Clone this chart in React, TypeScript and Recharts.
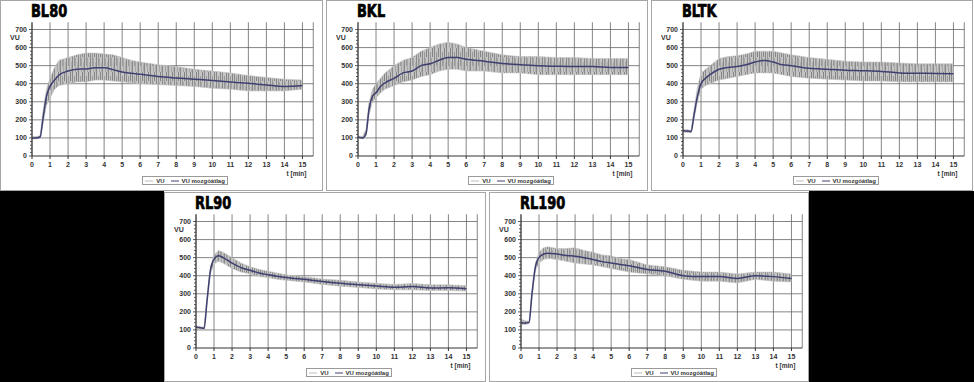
import { ComposedChart, Line, Area, XAxis, YAxis, CartesianGrid } from 'recharts';

// sample times (min)
const T = [0, 0.25, 0.45, 0.6, 0.8, 1, 1.25, 1.5, 2, 2.5, 3, 3.5, 4, 4.5, 5, 5.5, 6, 7, 8, 9, 10, 11, 12, 13, 14, 15];

const BL80_AVG = [100, 100, 105, 200, 330, 385, 420, 448, 470, 480, 482, 488, 488, 478, 465, 458, 452, 440, 432, 425, 418, 410, 402, 393, 385, 390];
const BL80_LO = [95, 95, 100, 170, 280, 320, 370, 390, 400, 410, 410, 420, 420, 415, 410, 405, 400, 395, 390, 385, 375, 370, 360, 360, 360, 370];
const BL80_HI = [108, 108, 112, 240, 370, 430, 490, 530, 545, 560, 570, 570, 565, 560, 545, 530, 520, 505, 495, 480, 470, 460, 445, 435, 425, 420];

const BKL_AVG = [105, 100, 125, 250, 330, 350, 385, 405, 430, 460, 470, 500, 510, 530, 545, 545, 535, 525, 512, 505, 500, 497, 495, 495, 490, 490];
const BKL_LO = [98, 95, 110, 220, 300, 320, 350, 370, 390, 410, 420, 440, 450, 470, 480, 480, 470, 470, 460, 460, 450, 450, 450, 450, 450, 450];
const BKL_HI = [110, 108, 150, 290, 370, 400, 430, 460, 500, 530, 545, 580, 600, 620, 630, 620, 600, 580, 560, 550, 550, 545, 545, 540, 540, 540];

const BLTK_AVG = [140, 138, 135, 220, 330, 400, 430, 450, 480, 490, 495, 505, 520, 528, 520, 505, 500, 485, 480, 475, 472, 468, 460, 458, 457, 455];
const BLTK_LO = [132, 130, 128, 200, 300, 370, 390, 400, 420, 430, 440, 450, 460, 460, 460, 450, 440, 430, 425, 420, 415, 415, 410, 410, 410, 410];
const BLTK_HI = [148, 145, 142, 250, 380, 460, 480, 500, 540, 550, 555, 565, 580, 580, 580, 570, 560, 545, 535, 525, 520, 520, 515, 510, 510, 510];

const RL90_AVG = [115, 112, 108, 250, 430, 490, 510, 500, 470, 445, 430, 415, 405, 397, 390, 385, 380, 368, 358, 350, 343, 336, 340, 332, 333, 328];
const RL90_LO = [108, 106, 102, 230, 410, 465, 480, 470, 440, 420, 410, 395, 390, 380, 375, 370, 365, 352, 342, 335, 327, 322, 322, 318, 318, 315];
const RL90_HI = [122, 118, 115, 270, 450, 515, 540, 530, 500, 470, 450, 435, 425, 415, 405, 400, 395, 382, 375, 365, 358, 352, 357, 350, 350, 345];

const RL190_AVG = [140, 138, 142, 290, 450, 500, 520, 525, 520, 512, 508, 500, 490, 478, 470, 462, 455, 435, 425, 400, 395, 395, 385, 400, 395, 385];
const RL190_LO = [130, 130, 135, 270, 430, 470, 490, 495, 490, 480, 470, 465, 460, 450, 440, 430, 420, 410, 400, 380, 370, 370, 360, 380, 370, 365];
const RL190_HI = [160, 150, 150, 310, 470, 530, 555, 560, 550, 550, 555, 540, 530, 515, 510, 495, 490, 460, 450, 430, 420, 420, 410, 420, 420, 410];

const X_TICKS = [0, 1, 2, 3, 4, 5, 6, 7, 8, 9, 10, 11, 12, 13, 14, 15];
const Y_MAJOR = [100, 200, 300, 400, 500, 600, 700];
const Y_TICKS = [0, 20, 40, 60, 80, 100, 120, 140, 160, 180, 200, 220, 240, 260, 280, 300, 320, 340, 360, 380, 400, 420, 440, 460, 480, 500, 520, 540, 560, 580, 600, 620, 640, 660, 680, 700];

const PANELS = [
  { id: 'bl80', title: 'BL80', left: 0, top: 0, w: 323, h: 191, avg: BL80_AVG, lo: BL80_LO, hi: BL80_HI },
  { id: 'bkl', title: 'BKL', left: 326, top: 0, w: 322, h: 191, avg: BKL_AVG, lo: BKL_LO, hi: BKL_HI },
  { id: 'bltk', title: 'BLTK', left: 651, top: 0, w: 322, h: 191, avg: BLTK_AVG, lo: BLTK_LO, hi: BLTK_HI },
  { id: 'rl90', title: 'RL90', left: 164, top: 192, w: 322, h: 190, avg: RL90_AVG, lo: RL90_LO, hi: RL90_HI },
  { id: 'rl190', title: 'RL190', left: 489, top: 192, w: 320, h: 190, avg: RL190_AVG, lo: RL190_LO, hi: RL190_HI },
];

const X0 = 32;
const PX_PER_MIN = 18.03;
const Y0 = 156;
const PX_PER_UNIT = 0.1807;
const X_MAX = 15.6;
const Y_MAX = 740;

const SMALL = "'Liberation Sans', Arial, sans-serif";
const AVG_COLOR = '#3f3f70';

const YTick = (props: any) => {
  const { x, y, payload } = props;
  const major = payload.value % 100 === 0;
  return (
    <g>
      <line x1={x - (major ? 3 : 2)} x2={x} y1={y} y2={y} stroke="#333" strokeWidth={0.8} />
      {major && (
        <text x={x - 5} y={y} dy="0.35em" textAnchor="end" fontSize={7} fontWeight="bold" fontFamily={SMALL} fill="#333">
          {payload.value}
        </text>
      )}
    </g>
  );
};

const Panel = ({ p }: { p: (typeof PANELS)[number] }) => {
  const rows = T.map((t, i) => ({ t, avg: p.avg[i], band: [p.lo[i], p.hi[i]] }));
  const plotRight = X0 + X_MAX * PX_PER_MIN;
  const plotTop = Y0 - Y_MAX * PX_PER_UNIT;
  const x15 = X0 + 15 * PX_PER_MIN;
  const y700 = Y0 - 700 * PX_PER_UNIT;
  return (
    <div style={{ position: 'absolute', left: p.left, top: p.top, width: p.w, height: p.h, background: '#fff' }}>
      <ComposedChart
        width={p.w}
        height={p.h}
        data={rows}
        margin={{ top: plotTop, right: p.w - plotRight, bottom: 0, left: 0 }}
      >
        <defs>
          <pattern id={`noise-${p.id}`} width={6} height={24} patternUnits="userSpaceOnUse">
            <rect width={6} height={24} fill="#c4c4c4" />
            <rect x={0} width={1} height={24} fill="#8a8a8a" />
            <rect x={2} y={4} width={1} height={14} fill="#999" />
            <rect x={3} y={10} width={1} height={14} fill="#a6a6a6" />
            <rect x={4} y={0} width={1} height={9} fill="#848484" />
            <rect x={5} y={14} width={1} height={10} fill="#adadad" />
          </pattern>
        </defs>
        <CartesianGrid stroke="#666" strokeWidth={0.8} horizontalValues={Y_MAJOR} />
        <XAxis
          type="number"
          dataKey="t"
          domain={[0, X_MAX]}
          ticks={X_TICKS}
          height={p.h - Y0}
          tickSize={3}
          tickMargin={3}
          stroke="#333"
          tick={{ fontSize: 7, fontWeight: 'bold', fontFamily: SMALL, fill: '#333' }}
          interval={0}
        />
        <YAxis
          type="number"
          domain={[0, Y_MAX]}
          ticks={Y_TICKS}
          width={X0}
          tickSize={0}
          tickMargin={0}
          tickLine={false}
          stroke="#333"
          tick={<YTick />}
          interval={0}
        />
        <Area
          dataKey="band"
          type="linear"
          stroke="#c2c2c2"
          strokeWidth={0.6}
          fill={`url(#noise-${p.id})`}
          fillOpacity={1}
          isAnimationActive={false}
        />
        <Line dataKey="avg" type="monotone" stroke={AVG_COLOR} strokeWidth={1.5} dot={false} isAnimationActive={false} />
      </ComposedChart>
      <div
        style={{
          position: 'absolute', left: 31, top: 1, fontFamily: "'DejaVu Sans Condensed', 'Liberation Sans Narrow', sans-serif",
          fontWeight: 'bold', fontSize: 18, lineHeight: '20px', color: '#000', transform: 'scaleX(0.8)', transformOrigin: 'left top',
          WebkitTextStroke: '0.7px #000',
        }}
      >
        {p.title}
      </div>
      <div style={{ position: 'absolute', left: X0 - 22, top: y700 + 4, fontFamily: SMALL, fontSize: 7, fontWeight: 'bold', color: '#333', lineHeight: '8px' }}>
        VU
      </div>
      <div style={{ position: 'absolute', left: x15 - 20, top: 170, width: 24, textAlign: 'right', fontFamily: SMALL, fontSize: 6.5, fontWeight: 'bold', color: '#333', lineHeight: '8px', whiteSpace: 'nowrap' }}>
        t [min]
      </div>
      <div
        style={{
          position: 'absolute', left: 142, top: 176, width: 86, height: 9, boxSizing: 'border-box', border: '1px solid #9a9a9a',
          display: 'flex', alignItems: 'center', justifyContent: 'center', gap: 3, fontFamily: SMALL, fontSize: 6, fontWeight: 'bold', color: '#333', whiteSpace: 'nowrap',
        }}
      >
        <svg width={8} height={4}><line x1={0} x2={8} y1={2} y2={2} stroke="#bdbdbd" strokeWidth={1} /></svg>
        <span>VU</span>
        <svg width={8} height={4} style={{ marginLeft: 3 }}><line x1={0} x2={8} y1={2} y2={2} stroke={AVG_COLOR} strokeWidth={1} /></svg>
        <span>VU mozgóátlag</span>
      </div>
      <div style={{ position: 'absolute', inset: 0, border: '1px solid #a6a6a6', pointerEvents: 'none' }} />
    </div>
  );
};

export default function App() {
  return (
    <div style={{ position: 'absolute', left: 0, top: 0, width: 974, height: 382, background: '#000', overflow: 'hidden' }}>
      <div style={{ position: 'absolute', left: 0, top: 0, width: 974, height: 191, background: '#fff' }} />
      <div style={{ position: 'absolute', left: 164, top: 191, width: 645, height: 191, background: '#fff' }} />
      {PANELS.map((p) => (
        <Panel key={p.id} p={p} />
      ))}
    </div>
  );
}
